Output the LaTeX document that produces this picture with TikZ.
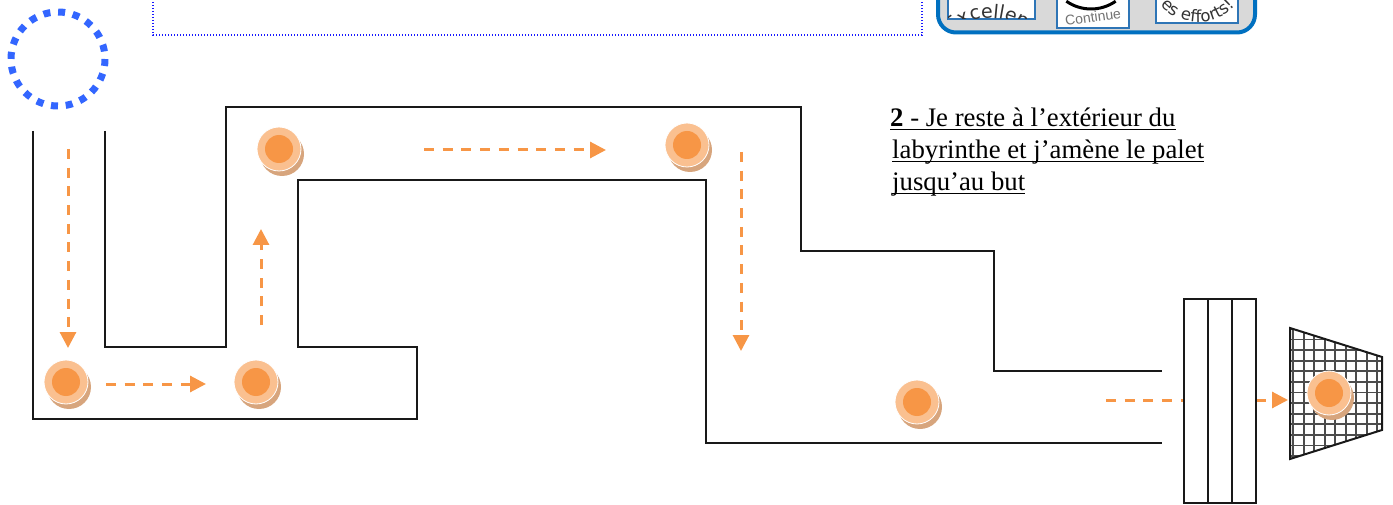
\documentclass[tikz,border=0pt]{standalone}
\usepackage{fontspec}
\setmainfont{Liberation Serif}
\newfontfamily\stickerfont{DejaVu Sans}
\newfontfamily\contfont{Liberation Sans}
\usetikzlibrary{arrows.meta,decorations.text,shadows}
\definecolor{flowor}{HTML}{F79646}
\definecolor{pucklight}{HTML}{FAC090}
\definecolor{puckdark}{HTML}{F79646}
\definecolor{puckshadow}{HTML}{D7A57D}
\definecolor{startblue}{HTML}{3366FF}
\definecolor{framebl}{HTML}{1A1AFF}
\definecolor{panelgray}{HTML}{D9D9D9}
\definecolor{panelblue}{HTML}{0070C0}
\definecolor{stickerbl}{HTML}{2E75B6}
\begin{document}
\begin{tikzpicture}[x=1pt,y=-1pt,
  wall/.style={line width=2pt, draw=black!90, line join=miter},
  flow/.style={draw=flowor, line width=3pt, dash pattern=on 10pt off 8.7pt,
    -{Triangle[length=16pt,width=16pt,fill=flowor]}},
  puck/.style={circle, inner sep=0pt, minimum size=44pt, fill=pucklight, draw=white, line width=0.8pt,
    drop shadow={shadow xshift=3pt, shadow yshift=-5pt, opacity=1, fill=puckshadow, draw=none},
    path picture={\fill[puckdark] (path picture bounding box.center) circle[radius=14pt];}},
  txt/.style={inner sep=0pt, anchor=base west, font=\fontsize{26.75}{32}\selectfont},
  ulline/.style={line width=1.4pt, black},
  sticker/.style={fill=white, draw=stickerbl, line width=1.2pt}]
\useasboundingbox (0,0) rectangle (1393,505);

% start circle (dotted blue)
\draw[startblue, line width=7pt, dash pattern=on 7pt off 7.77pt] (58,59) circle (47);

% dotted frame at top
\draw[framebl, line width=1.2pt, dash pattern=on 1.2pt off 1.8pt] (153,-10) -- (153,35) -- (922,35) -- (922,-10);

% top-right panel with stickers
\draw[fill=panelgray, draw=panelblue, line width=4pt, rounded corners=18pt] (938,-40) rectangle (1255,32.5);
\draw[sticker] (948,-5) rectangle (1035,19);
\draw[sticker] (1057,-5) rectangle (1129,28);
\draw[sticker] (1156,-5) rectangle (1238,23);
\begin{scope}
  \clip (948.6,-5) rectangle (1034.4,18.4);
  \path[decorate, decoration={text along path, text align=left,
     text={|\stickerfont\fontsize{19}{19}\selectfont\color{black!80}|Excellent}}]
     (990,78) ++(229.5:60) arc[start angle=229.5, end angle=330, radius=60];
\end{scope}
\begin{scope}
  \clip (1057.6,-5) rectangle (1128.4,27.4);
  \draw[black, line width=3pt] (1091,-34) ++(125:43) arc[start angle=125, end angle=55, radius=43];
  \node[rotate=8, text=black!55, font=\contfont\fontsize{14}{14}\selectfont, inner sep=0pt] (cont) at (1093,17) {Continue};
\end{scope}
\begin{scope}
  \clip (1156.6,-5) rectangle (1237.4,22.4);
  \path[decorate, decoration={text along path, text align=left,
     text={|\stickerfont\fontsize{16.5}{16.5}\selectfont\color{black!80}|es efforts!}}]
     (1198,-28) ++(138.6:50) arc[start angle=138.6, end angle=20, radius=50];
\end{scope}

% maze walls
\draw[wall] (33,131) -- (33,419) -- (417,419) -- (417,347) -- (298,347) -- (298,180)
  -- (706,180) -- (706,443) -- (1162,443);
\draw[wall] (105,131) -- (105,347) -- (226,347) -- (226,107) -- (801,107) -- (801,251)
  -- (994,251) -- (994,371) -- (1162,371);

% arrow end points
\coordinate (a1s) at (68,149);   \coordinate (a1e) at (68,348);
\coordinate (a2s) at (106,384);  \coordinate (a2e) at (206,384);
\coordinate (a3s) at (261,325);  \coordinate (a3e) at (261,229);
\coordinate (a4s) at (424,150);  \coordinate (a4e) at (606,150);
\coordinate (a5s) at (741,152);  \coordinate (a5e) at (741,351);
\coordinate (a6s) at (1106,400); \coordinate (a6e) at (1288,400);
\draw[flow] (a1s) -- (a1e);
\draw[flow] (a2s) -- (a2e);
\draw[flow] (a3s) -- (a3e);
\draw[flow] (a4s) -- (a4e);
\draw[flow] (a5s) -- (a5e);
\draw[flow] (a6s) -- (a6e);

% gate
\draw[wall, fill=white] (1184,299) rectangle (1256,503);
\draw[wall] (1208,299) -- (1208,503);
\draw[wall] (1232,299) -- (1232,503);

% net
\coordinate (n1) at (1290,328);
\coordinate (n2) at (1382,357);
\coordinate (n3) at (1382,430);
\coordinate (n4) at (1290,459);
\fill[white] (n1) -- (n2) -- (n3) -- (n4) -- cycle;
\begin{scope}
  \clip (n1) -- (n2) -- (n3) -- (n4) -- cycle;
  \foreach \k in {0,...,9} \draw[black!70, line width=1.8pt] ({1293.3+10.5*\k},320) -- ++(0,150);
  \foreach \k in {-3,...,11} \draw[black!70, line width=1.8pt] (1285,{350+10.6*\k}) -- ++(110,0);
\end{scope}
\draw[wall] (n1) -- (n2) -- (n3) -- (n4) -- cycle;

% pucks
\node[puck] (p1) at (66,382) {};
\node[puck] (p2) at (256,382) {};
\node[puck] (p3) at (279,149) {};
\node[puck] (p4) at (687,145) {};
\node[puck] (p5) at (917,402) {};
\node[puck] (p6) at (1329,393) {};

% instruction text
\node[txt] (t1) at (890,126.5) {\textbf{2} - Je reste à l’extérieur du};
\node[txt] (t2) at (892,158.5) {labyrinthe et j’amène le palet};
\node[txt] (t3) at (892,190.5) {jusqu’au but};
\draw[ulline] ([yshift=-2.8pt]t1.base west) -- ([yshift=-2.8pt]t1.base east);
\draw[ulline] ([yshift=-2.8pt]t2.base west) -- ([yshift=-2.8pt]t2.base east);
\draw[ulline] ([yshift=-2.8pt]t3.base west) -- ([yshift=-2.8pt]t3.base east);
\end{tikzpicture}
\end{document}
